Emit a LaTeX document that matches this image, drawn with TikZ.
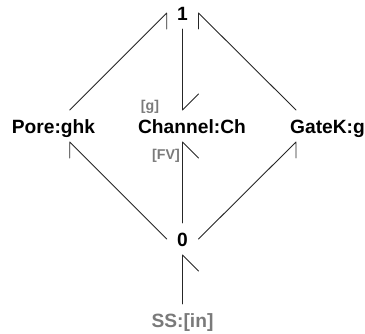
\documentclass[tikz,border=0pt]{standalone}
\usepackage{fontspec}
\setmainfont{Liberation Sans}
\definecolor{gray50}{gray}{0.48}
\tikzset{
  lbl/.style={font=\fontsize{19.2bp}{22bp}\selectfont\bfseries,inner sep=0pt,anchor=base},
  sub/.style={lbl,text=gray50},
  small/.style={font=\fontsize{14.2bp}{16bp}\selectfont\bfseries,text=gray50,inner sep=0pt,anchor=base},
  conn/.style={line width=0.9bp,black!85,line join=round,line cap=round},
}
\begin{document}
\begin{tikzpicture}[x=1bp,y=-1bp]
\useasboundingbox (0,0) rectangle (365,334);
\node[lbl] (one) at (182.5,20) {1};
\node[lbl] (zero) at (182.5,246) {0};
\node[lbl] (pore) at (53.5,133) {Pore:ghk};
\node[lbl] (channel) at (192,133) {Channel:Ch};
\node[lbl] (gate) at (327.5,133) {GateK:g};
\node[sub] (ss) at (182.5,327.7) {SS:[in]};
\node[small] (g) at (150,110.3) {[g]};
\node[small] (fv) at (166,159) {[FV]};
% connector ends
\coordinate (oneL) at (166.7,13);
\coordinate (oneR) at (198.5,13);
\coordinate (oneB) at (182.5,29);
\coordinate (zeroL) at (166.7,239);
\coordinate (zeroR) at (198.5,239);
\coordinate (zeroT) at (182.5,223);
\coordinate (zeroB) at (182.5,255);
\coordinate (poreT) at (69.7,110);
\coordinate (poreB) at (69.7,142);
\coordinate (chanT) at (182.5,110);
\coordinate (chanB) at (182.5,142);
\coordinate (gateT) at (296,110);
\coordinate (gateB) at (296,142);
\coordinate (ssT) at (182.5,304);
% connectors: each ends in a half arrowhead, one straight barb
\draw[conn] (poreT) -- (oneL) -- ++(0,16);
\draw[conn] (gateT) -- (oneR) -- ++(0,16);
\draw[conn] (oneB) -- (chanT) -- ++(16,-16);
\draw[conn] (zeroL) -- (poreB) -- ++(0,16);
\draw[conn] (zeroR) -- (gateB) -- ++(0,16);
\draw[conn] (zeroT) -- (chanB) -- ++(16,16);
\draw[conn] (ssT) -- (zeroB) -- ++(16,16);
\end{tikzpicture}
\end{document}
